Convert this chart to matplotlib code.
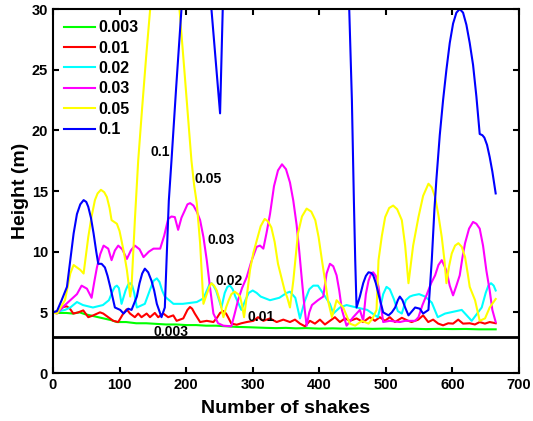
import matplotlib
matplotlib.use("Agg")
import matplotlib.pyplot as plt

plt.rcParams['font.family'] = ['Liberation Sans', 'DejaVu Sans']
plt.rcParams['font.weight'] = 'bold'

labels = ['0.003', '0.01', '0.02', '0.03', '0.05', '0.1']
colors = ['#00ff00', '#ff0000', '#00ffff', '#ff00ff', '#ffff00', '#0000ff']

x_003 = [0, 10, 20, 30, 40, 48, 56, 64, 72, 80, 88, 96, 110, 125, 140, 155, 170, 185, 200,
         215, 230, 245, 260, 275, 290, 305, 320, 335, 350, 365, 380, 400, 420, 440, 460,
         480, 500, 520, 540, 560, 580, 600, 620, 640, 665]
y_003 = [5.0, 4.95, 4.95, 4.9, 5.0, 4.85, 4.75, 4.65, 4.55, 4.45, 4.35, 4.2, 4.2, 4.1, 4.1,
         4.05, 4.0, 4.0, 3.95, 3.95, 3.9, 3.9, 3.85, 3.8, 3.78, 3.75, 3.72, 3.7, 3.72, 3.68,
         3.7, 3.66, 3.68, 3.65, 3.67, 3.64, 3.66, 3.63, 3.65, 3.62, 3.64, 3.62, 3.63, 3.6, 3.6]

x_01 = [0, 8, 15.5, 20.5, 25.5, 30.5, 38, 45.5, 53, 60.5, 70.6, 75.5, 83, 90.6, 98, 105.6,
        110.7, 115.7, 123, 128, 133, 140.7, 145.7, 153, 158, 165.7, 173, 180.7, 185.7, 195.7,
        202, 205.8, 209, 213, 221, 231, 241, 247, 251, 256, 260, 263, 268, 276, 283, 291, 301,
        308, 316, 326, 336, 346, 356, 363.5, 371, 378.5, 386, 393.5, 401, 408.5, 416, 423.5,
        431, 438.6, 446, 456, 466, 476, 483.6, 491, 498.6, 506, 513.7, 524, 533.7, 538.7,
        548.7, 556, 563.7, 571, 578.7, 586, 593.7, 601, 608.7, 616, 626, 633.8, 641, 648.8,
        656, 665]
y_01 = [5.0, 5.1, 5.44, 5.5, 5.3, 4.9, 5.0, 5.16, 4.6, 4.75, 5.0, 4.9, 4.6, 4.3, 4.2, 4.9,
        5.25, 4.9, 4.6, 4.9, 4.6, 4.9, 4.6, 4.95, 4.6, 4.9, 4.6, 4.75, 4.3, 4.5,
        5.2, 5.44, 5.3, 4.9, 4.2, 4.3, 4.2, 4.6, 4.95, 5.1, 4.9, 4.6, 4.07, 3.98, 4.1, 4.2,
        4.3, 4.6, 4.3, 4.5, 4.2, 4.4, 4.2, 4.4, 4.07, 3.85, 4.3, 4.07, 4.4, 4.0, 4.3, 4.6,
        4.2, 4.5, 4.3, 4.5, 4.2, 4.6, 4.3, 4.6, 4.3, 4.6, 4.2, 4.55, 4.3, 4.2, 4.4, 4.75,
        4.2, 4.4, 4.07, 3.93, 4.1, 4.07, 4.4, 4.07, 4.1, 4.0, 4.2, 4.07, 4.2, 4.1]

x_02 = [0, 10, 18, 26, 36, 45, 60, 75, 84, 90, 93, 96, 99, 103, 109, 113, 116, 119, 122, 126,
        138, 146, 151, 156, 160, 164, 168, 181, 195, 216, 226, 232, 235, 238, 241, 245, 253,
        258, 262, 266, 270, 274, 283, 289, 294, 300, 306, 312, 326, 340, 351, 356, 364, 371,
        378, 385, 391, 398, 404, 410, 416, 421, 431, 441, 456, 472, 488, 492, 496, 501, 506,
        512, 518, 524, 530, 536, 541, 550, 559, 569, 578, 589, 614, 629, 644, 650, 654, 658,
        662, 665]
y_02 = [5.0, 5.1, 5.2, 5.4, 5.85, 5.6, 5.4, 5.6, 6.0, 6.8, 7.1, 7.2, 7.0, 5.7, 6.8, 7.3, 7.4,
        7.2, 6.6, 5.4, 5.7, 6.9, 7.6, 7.8, 7.5, 6.8, 6.3, 5.7, 5.7, 5.85, 6.15, 6.9, 7.3, 7.4,
        7.2, 6.8, 5.4, 6.6, 7.1, 7.2, 6.9, 6.3, 5.2, 6.0, 6.6, 6.8, 6.6, 6.3, 6.0, 6.2, 6.6,
        6.7, 6.2, 4.5, 5.9, 6.9, 7.2, 7.2, 6.7, 6.2, 5.7, 4.9, 5.4, 5.6, 5.4, 5.2, 4.6, 5.5,
        6.5, 7.1, 6.9, 6.1, 5.1, 4.9, 6.0, 6.3, 6.4, 6.5, 6.3, 5.8, 4.6, 4.9, 5.2, 4.3, 5.4,
        6.6, 7.2, 7.4, 7.2, 6.8]

x_03 = [0, 6, 16, 26, 36, 43, 51, 58, 62, 66, 71, 76, 83, 88, 93, 98, 104, 111, 117, 123,
        130, 136, 144, 151, 161, 167, 173, 178, 183, 188, 193, 198, 202, 206, 211, 216, 221,
        226, 231, 236, 241, 248, 256, 268, 273, 278, 284, 291, 298, 306, 311, 316, 321, 326,
        332, 338, 344, 350, 356, 361, 366, 370, 374, 378, 381, 385, 389, 398, 406, 411, 416,
        421, 426, 430, 434, 441, 451, 461, 466, 470, 474, 478, 481, 485, 489, 496, 506, 521,
        529, 544, 549, 555, 561, 568, 574, 579, 584, 591, 596, 601, 606, 611, 615, 619, 625,
        631, 636, 641, 646, 651, 656, 660, 665]
y_03 = [5.0, 4.9, 5.5, 6.0, 6.5, 7.2, 6.95, 6.2, 7.5, 8.7, 9.8, 10.5, 10.25, 9.3, 10.1,
        10.5, 10.2, 9.4, 10.1, 10.5, 10.2, 9.55, 10.0, 10.25, 10.25, 11.3, 12.7, 12.9, 12.85,
        11.8, 12.8, 13.4, 13.9, 14.0, 13.8, 13.3, 12.6, 11.2, 9.3, 7.0, 4.9, 4.1, 3.9, 3.85,
        4.9, 6.0, 7.0, 7.9, 9.2, 10.4, 10.5, 10.25, 11.6, 13.1, 15.4, 16.7, 17.2, 16.8, 15.7,
        14.2, 12.2, 10.0, 7.6, 5.3, 3.9, 5.0, 5.6, 6.0, 6.3, 8.2, 9.0, 8.8, 8.05, 6.8, 5.2,
        3.9, 4.6, 5.2, 4.3, 6.5, 7.6, 8.2, 8.3, 8.0, 7.1, 4.2, 4.3, 4.2, 4.3, 4.3, 4.6, 5.6,
        6.4, 7.4, 8.05, 8.9, 9.3, 8.45, 7.2, 6.4, 7.2, 8.05, 9.5, 10.7, 11.9, 12.45, 12.3,
        11.9, 10.5, 8.45, 6.8, 5.2, 4.2]

x_05 = [0, 6, 18, 26, 31, 36, 41, 46, 53, 58, 63, 67, 72, 77, 81, 85, 88, 96, 100, 103, 107,
        111, 116, 118, 123, 128, 134, 140, 146, 168, 190, 198, 204, 208, 212, 216, 221, 226,
        231, 235, 238, 242, 246, 251, 256, 260, 264, 268, 273, 278, 281, 284, 287, 292, 296,
        301, 306, 312, 318, 323, 328, 333, 338, 343, 348, 352, 356, 361, 368, 374, 381, 388,
        394, 399, 404, 409, 413, 419, 426, 436, 446, 454, 464, 474, 480, 486, 489, 494, 499,
        505, 511, 517, 524, 529, 534, 541, 549, 556, 564, 569, 574, 579, 584, 588, 591, 595,
        599, 604, 609, 614, 619, 623, 626, 634, 641, 649, 656, 665]
y_05 = [5.0, 4.9, 6.0, 8.2, 8.9, 8.7, 8.5, 8.2, 11.2, 12.9, 14.25, 14.8, 15.1, 14.9, 14.5,
        13.6, 12.6, 12.3, 11.7, 10.9, 9.8, 8.5, 6.3, 7.1, 12.6, 17.5, 21.9, 26.1, 30.0, 36.0,
        30.0, 24.5, 20.3, 17.5, 15.5, 14.0, 10.7, 5.7, 6.5, 7.1, 7.4, 7.2, 6.8, 5.9, 4.6, 5.4,
        6.0, 6.5, 6.7, 6.5, 6.3, 5.6, 4.6, 6.7, 8.5, 9.9, 10.9, 12.1, 12.7, 12.5, 12.0, 10.8,
        9.0, 7.9, 6.8, 6.2, 5.4, 7.6, 11.5, 12.9, 13.55, 13.3, 12.6, 11.2, 9.3, 7.5, 6.0,
        4.6, 6.0, 5.4, 4.07, 3.9, 4.3, 4.07, 4.5, 5.2, 9.3, 11.3, 12.85, 13.6, 13.8, 13.5,
        12.6, 10.5, 7.4, 10.5, 12.85, 14.6, 15.6, 15.3, 14.5, 13.0, 11.2, 9.3, 7.4, 8.8,
        9.85, 10.5, 10.7, 10.4, 9.55, 8.2, 7.1, 6.0, 4.3, 4.5, 5.4, 6.1]

x_1 = [0, 6, 13, 21, 26, 31, 36, 41, 46, 50, 53, 57, 61, 65, 68, 73, 78, 82, 86, 93, 101,
       106, 113, 118, 126, 130, 134, 138, 143, 148, 152, 156, 163, 168, 171, 174, 178, 185,
       193, 215, 238, 251, 255, 350, 445, 449, 452, 454, 456, 461, 466, 470, 474, 478, 481,
       485, 489, 496, 504, 509, 514, 518, 521, 525, 529, 534, 544, 551, 556, 564, 569, 573,
       576, 581, 586, 591, 596, 601, 606, 611, 616, 621, 626, 631, 636, 641, 645, 648, 652,
       656, 660, 665]
y_1 = [5.0, 5.1, 6.0, 7.1, 9.3, 11.5, 13.1, 13.9, 14.25, 14.1, 13.7, 12.8, 11.5, 10.0, 9.0,
       9.0, 8.7, 8.0, 7.1, 5.4, 5.2, 4.9, 5.3, 5.2, 6.3, 7.4, 8.2, 8.6, 8.3, 7.6, 6.8, 5.7,
       4.6, 5.4, 9.85, 14.2, 17.5, 23.5, 30.0, 36.0, 30.0, 21.4, 30.0, 60.0, 30.0, 22.5, 14.2,
       9.3, 5.4, 6.3, 7.4, 8.0, 8.3, 8.25, 8.05, 7.4, 6.5, 5.0, 4.75, 5.0, 5.4, 6.0, 6.3,
       6.0, 5.4, 4.75, 5.4, 5.3, 4.9, 5.2, 9.3, 13.5, 16.0, 19.6, 22.5, 25.0, 27.2, 28.8,
       29.7, 30.0, 29.7, 28.7, 27.2, 25.4, 22.8, 19.7, 19.6, 19.4, 18.8, 17.8, 16.6, 14.8]

curve_label_pos = [(178, 3.4), (312, 4.6), (264, 7.6), (252, 11.0), (233, 16.0), (161, 18.2)]
ref_level = 3
xticks = [0, 100, 200, 300, 400, 500, 600, 700]
yticks = [0, 5, 10, 15, 20, 25, 30]

series = [(x_003, y_003), (x_01, y_01), (x_02, y_02), (x_03, y_03), (x_05, y_05), (x_1, y_1)]

fig = plt.figure(figsize=(5.33, 4.21), dpi=100)
ax = fig.add_axes([0.0994, 0.114, 0.8743, 0.8646])

for (xs, ys), c, lab in zip(series, colors, labels):
    ax.plot(xs, ys, color=c, lw=1.5, label=lab)

ax.axhline(ref_level, color='black', lw=2.0)

for lab, (tx, ty) in zip(labels, curve_label_pos):
    ax.text(tx, ty, lab, fontsize=10, fontweight='bold', ha='center', va='center')

ax.set_xlim(0, 700)
ax.set_ylim(0, 30)
ax.set_xticks(xticks)
ax.set_yticks(yticks)
ax.tick_params(direction='in', top=True, right=True, labelsize=10.5, width=1.5, length=4)
for lbl in ax.get_xticklabels() + ax.get_yticklabels():
    lbl.set_fontweight('bold')
for sp in ax.spines.values():
    sp.set_linewidth(1.5)
ax.set_xlabel('Number of shakes', fontsize=14, fontweight='bold', labelpad=6)
ax.set_ylabel('Height (m)', fontsize=14, fontweight='bold', labelpad=2)

leg = ax.legend(loc='upper left', bbox_to_anchor=(0.0, 1.0), frameon=False,
                prop={'size': 11.5, 'weight': 'bold'}, handlelength=1.9,
                handletextpad=0.25, labelspacing=0.34, borderpad=0.4, borderaxespad=0.3)

fig.savefig('out.png', dpi=100)
